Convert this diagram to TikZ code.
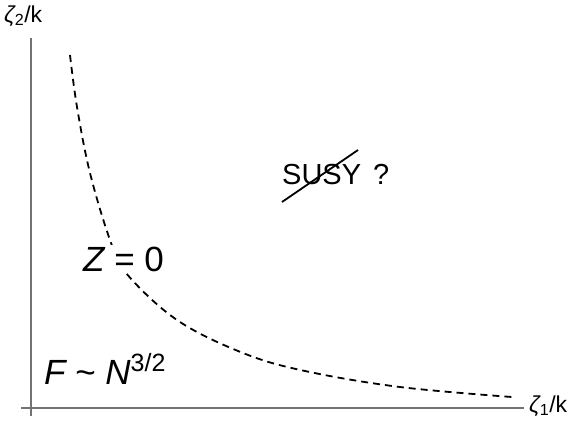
\documentclass[tikz,border=0pt]{standalone}
\usepackage{fontspec}
\setmainfont{Liberation Sans}
\begin{document}
\begin{tikzpicture}[x=1pt,y=-1pt,
  axis/.style={draw=gray!90!black,line width=1.8pt},
  curve/.style={line width=1.8pt,dash pattern=on 7pt off 5pt},
  lbl/.style={anchor=base west,inner sep=0pt,font=\fontsize{35}{38}\selectfont},
  axlbl/.style={anchor=base west,inner sep=0pt,font=\fontsize{23}{26}\selectfont}]
\useasboundingbox (0,0) rectangle (575,421);
\coordinate (ytop) at (31,38);
\coordinate (ybot) at (31,416);
\coordinate (xl) at (21,408);
\coordinate (xr) at (524,408);
\draw[axis] (ybot) -- (ytop);
\draw[axis] (xl) -- (xr);
\draw[curve] plot[smooth,tension=0.6] coordinates {(70,55) (77,107) (90,173) (110,240) (126,273) (177,320) (243,353) (305,371) (400,387) (512,397)};
\node[lbl,fill=white,inner xsep=1pt,inner ysep=2pt] (z) at (82,271) {\itshape Z\upshape\ = 0};
\node[lbl] (f) at (44,384) {\itshape F\upshape\ \char`~\ \itshape N\upshape\raisebox{13pt}{\fontsize{25}{27}\selectfont 3/2}};
\node[lbl,font=\fontsize{29}{32}\selectfont] (susy) at (282,184) {SUSY\hspace{12pt}?};
\coordinate (s1) at (282,202);
\coordinate (s2) at (358,150);
\draw[line width=1.8pt] (s1) -- (s2);
\node[axlbl] (yl) at (4,22) {\itshape ζ\upshape\textsubscript{2}/k};
\node[axlbl] (xlab) at (529,412) {\itshape ζ\upshape\textsubscript{1}/k};
\end{tikzpicture}
\end{document}
